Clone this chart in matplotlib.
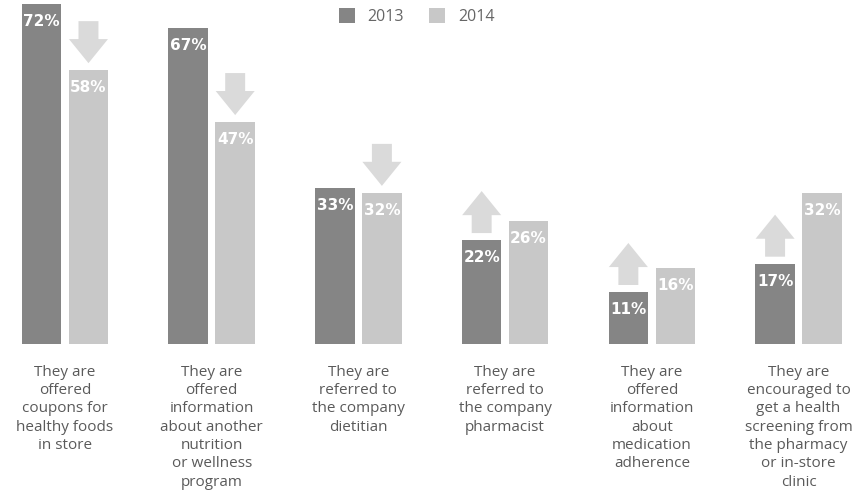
import numpy as np
import matplotlib.pyplot as plt

categories = [
    "They are\noffered\ncoupons for\nhealthy foods\nin store",
    "They are\noffered\ninformation\nabout another\nnutrition\nor wellness\nprogram",
    "They are\nreferred to\nthe company\ndietitian",
    "They are\nreferred to\nthe company\npharmacist",
    "They are\noffered\ninformation\nabout\nmedication\nadherence",
    "They are\nencouraged to\nget a health\nscreening from\nthe pharmacy\nor in-store\nclinic",
]
vals_2013 = [72, 67, 33, 22, 11, 17]
vals_2014 = [58, 47, 32, 26, 16, 32]
years = ["2013", "2014"]

c13 = "#858585"
c14 = "#c8c8c8"
c_arrow = "#dadada"
txt = "#5a5a5a"

fig = plt.figure(figsize=(8.59, 4.9), dpi=100)
ax = fig.add_axes([0, 1 - 344 / 490, 1, 344 / 490])

x = np.arange(len(categories))
w = 0.27
off = 0.16
b1 = ax.bar(x - off, vals_2013, w, color=c13, label=years[0])
b2 = ax.bar(x + off, vals_2014, w, color=c14, label=years[1])

ax.set_xlim(-0.443, 5.412)
ax.set_ylim(0, 344 / 4.72)

# value labels inside the bars
for xs, vs in ((x - off, vals_2013), (x + off, vals_2014)):
    for xi, v in zip(xs, vs):
        ax.text(xi, v - 3.7, f"{v}%", ha="center", va="center", color="white",
                fontsize=11, fontweight="bold", family="DejaVu Sans")

# block arrows showing the direction of change
gap, length, head = 1.5, 8.9, 5.1
for xi, a, b in zip(x, vals_2013, vals_2014):
    if b < a:
        ax.arrow(xi + off, b + gap + length, 0, -length, width=0.136,
                 head_width=0.266, head_length=head, length_includes_head=True,
                 color=c_arrow, lw=0)
    else:
        ax.arrow(xi - off, a + gap, 0, length, width=0.136,
                 head_width=0.266, head_length=head, length_includes_head=True,
                 color=c_arrow, lw=0)

ax.set_xticks(x)
ax.set_xticklabels(categories, fontsize=11, color=txt, family="Open Sans",
                   linespacing=1.3)
ax.tick_params(axis="x", length=0, pad=15)
ax.set_yticks([])
for s in ax.spines.values():
    s.set_visible(False)

leg = fig.legend(handles=[b1, b2], labels=years, loc="upper center",
                 bbox_to_anchor=(0.485, 1.012), ncol=2, frameon=False,
                 handlelength=1.0, handleheight=1.0,
                 columnspacing=1.6, handletextpad=0.8,
                 prop={"family": "Open Sans", "size": 11.5})
for t in leg.get_texts():
    t.set_color("#666666")

fig.savefig("out.png", dpi=100)
